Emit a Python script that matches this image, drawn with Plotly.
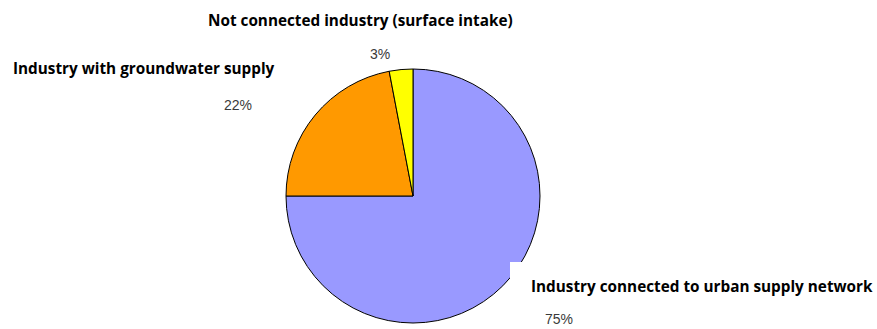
import plotly.graph_objects as go

categories = ["Industry connected to urban supply network",
              "Industry with groundwater supply",
              "Not connected industry (surface intake)"]
values = [75, 22, 3]
colors = ["#9999FF", "#FF9900", "#FFFF00"]

W, H = 877, 329

def px(x):
    return x / W

def py(y):
    return 1 - y / H

fig = go.Figure(go.Pie(
    labels=categories,
    values=values,
    sort=False,
    direction="clockwise",
    rotation=0,
    textinfo="none",
    hoverinfo="label+percent",
    marker=dict(colors=colors, line=dict(color="#000000", width=1)),
    domain=dict(x=[px(286), px(540)], y=[py(323), py(69)]),
    showlegend=False,
))

label_font = dict(family="'Open Sans', Lato, sans-serif", size=15.3, color="#000000")
pct_font = dict(family="'Liberation Sans', Arial, sans-serif", size=14, color="#3a3a3a")

annotations = [
    dict(text="<b>" + categories[2] + "</b>", x=px(360), y=py(20), font=label_font,
         xanchor="center", yanchor="middle"),
    dict(text="<b>" + categories[1] + "</b>", x=px(11), y=py(68), font=label_font,
         xanchor="left", yanchor="middle"),
    dict(text="<b>" + categories[0] + "</b>", x=px(529), y=py(286), font=label_font,
         xanchor="left", yanchor="middle"),
    dict(text=f"{values[2]}%", x=px(380), y=py(54), font=pct_font, xanchor="center", yanchor="middle"),
    dict(text=f"{values[1]}%", x=px(238), y=py(105), font=pct_font, xanchor="center", yanchor="middle"),
    dict(text=f"{values[0]}%", x=px(559), y=py(319), font=pct_font, xanchor="center", yanchor="middle"),
]
for a in annotations:
    a.update(xref="paper", yref="paper", showarrow=False)

fig.update_layout(
    width=W, height=H,
    margin=dict(l=0, r=0, t=0, b=0),
    paper_bgcolor="white",
    plot_bgcolor="white",
    annotations=annotations,
    shapes=[dict(type="rect", xref="paper", yref="paper",
                 x0=px(510), x1=1, y0=py(305), y1=py(262),
                 fillcolor="white", line=dict(width=0), layer="above")],
)

fig.write_html("out.html")
